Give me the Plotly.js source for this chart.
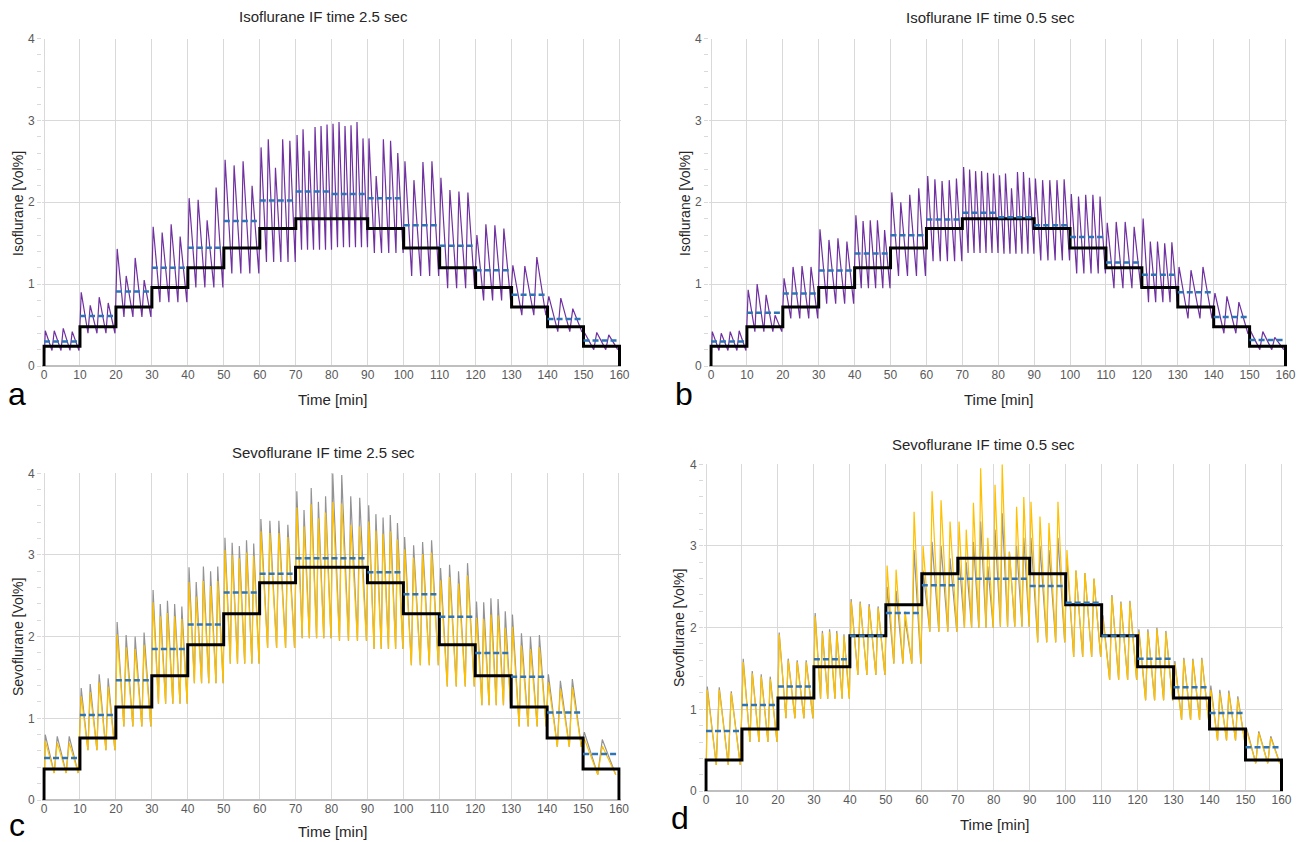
<!DOCTYPE html>
<html>
<head>
<meta charset="utf-8">
<script src="https://cdn.plot.ly/plotly-3.0.1.min.js"></script>
<style>html,body{margin:0;padding:0;background:#fff;}#chart{width:1305px;height:842px;}</style>
</head>
<body>
<div id="chart"></div>
<script>
// ---- Data ----
const stepStarts = [0,10,20,30,40,50,60,70,80,90,100,110,120,130,140,150];
const xTicks = [0,10,20,30,40,50,60,70,80,90,100,110,120,130,140,150,160];

const isoTarget  = [0.24,0.48,0.72,0.96,1.2,1.44,1.68,1.8,1.8,1.68,1.44,1.2,0.96,0.72,0.48,0.24];
const sevoTarget = [0.38,0.76,1.14,1.52,1.9,2.28,2.66,2.85,2.85,2.66,2.28,1.9,1.52,1.14,0.76,0.38];

// Panel a: Isoflurane IF 2.5 s
const isoSlowMean = [0.30,0.61,0.91,1.20,1.445,1.77,2.02,2.13,2.10,2.05,1.72,1.47,1.17,0.87,0.575,0.31];
const isoSlowPeaks = [
  [0.43,0.43,0.46,0.42],
  [0.90,0.74,0.84,0.77],
  [1.43,1.10,1.32,1.05],
  [1.70,1.63,1.73,1.58],
  [2.05,2.03,1.78,2.18],
  [2.52,2.45,2.50,2.20],
  [2.67,2.77,2.42,2.77,2.75],
  [2.82,2.89,2.63,2.92,2.93,2.95],
  [2.96,2.98,2.93,2.94,2.98,2.78],
  [2.78,2.32,2.77,2.75,2.60],
  [2.50,2.27,2.49,2.50],
  [2.30,2.15,2.13,2.12],
  [1.60,1.73,1.72,1.68],
  [1.23,1.22,1.33],
  [0.85,0.83,0.70],
  [0.40,0.41,0.38]
];
const isoSlowTroughs = [0.19,0.40,0.60,0.78,0.96,1.13,1.27,1.42,1.45,1.38,1.10,0.95,0.80,0.62,0.42,0.20];

// Panel b: Isoflurane IF 0.5 s
const isoFastMean = [0.30,0.65,0.886,1.167,1.375,1.596,1.79,1.873,1.816,1.72,1.575,1.265,1.114,0.90,0.60,0.318];
const isoFastPeaks = [
  [0.42,0.40,0.42,0.43],
  [0.93,1.00,0.87,0.62],
  [1.07,1.21,1.22,1.21],
  [1.67,1.54,1.56,1.52],
  [1.84,1.77,1.78,1.78,1.66],
  [2.12,2.00,2.09,2.17],
  [2.32,2.28,2.26,2.27,2.29],
  [2.43,2.40,2.38,2.38,2.36,2.35],
  [2.33,2.35,2.17,2.37,2.37,2.30],
  [2.29,2.27,2.27,2.27,2.28],
  [2.10,2.07,2.09,2.09,2.07],
  [1.75,1.76,1.76,1.70],
  [1.80,1.52,1.52,1.50,1.51],
  [1.21,1.17,1.21],
  [0.89,0.85,0.78],
  [0.42,0.42,0.35]
];
const isoFastTroughs = [0.19,0.42,0.58,0.76,0.95,1.10,1.28,1.38,1.37,1.29,1.13,0.95,0.78,0.58,0.40,0.20];

// Panel c: Sevoflurane IF 2.5 s (gray = upper series, gold drawn on top)
const sevoSlowMean = [0.514,1.04,1.465,1.85,2.15,2.54,2.77,2.96,2.96,2.79,2.52,2.245,1.80,1.51,1.07,0.563];
const sevoSlowGrayPeaks = [
  [0.80,0.78,0.78],
  [1.37,1.42,1.54,1.49],
  [2.18,2.02,2.00,2.05],
  [2.57,2.40,2.44,2.40,2.37],
  [2.85,2.67,2.86,2.80,2.86],
  [3.21,3.15,3.11,3.18,3.14],
  [3.44,3.42,3.42,3.37],
  [3.78,3.55,3.82,3.65,3.72],
  [4.00,3.98,3.72,3.70],
  [3.61,3.50,3.46,3.49,3.39],
  [3.22,3.12,3.16,3.18],
  [2.84,2.88,2.80,2.90],
  [2.43,2.42,2.47,2.46,2.31],
  [2.27,2.04,2.00,2.02],
  [1.54,1.46,1.48],
  [0.83,0.74]
];
const sevoSlowGoldPeaks = [
  [0.72,0.70,0.70],
  [1.27,1.32,1.44,1.39],
  [2.03,1.87,1.85,1.90],
  [2.42,2.25,2.29,2.25,2.22],
  [2.67,2.49,2.68,2.62,2.68],
  [3.06,3.00,2.96,3.03,2.99],
  [3.29,3.27,3.27,3.22],
  [3.58,3.35,3.62,3.45,3.52],
  [3.65,3.63,3.37,3.35],
  [3.41,3.30,3.26,3.29,3.19],
  [3.07,2.97,3.01,3.03],
  [2.69,2.73,2.65,2.75],
  [2.23,2.22,2.27,2.26,2.11],
  [2.12,1.89,1.85,1.87],
  [1.44,1.36,1.38],
  [0.75,0.66]
];
const sevoSlowTroughs = [0.33,0.61,0.90,1.18,1.43,1.67,1.86,1.98,1.95,1.85,1.65,1.39,1.16,0.90,0.65,0.31];

// Panel d: Sevoflurane IF 0.5 s
const sevoFastMean = [0.735,1.053,1.278,1.612,1.90,2.18,2.52,2.60,2.60,2.51,2.306,1.90,1.62,1.27,0.955,0.535];
const sevoFastGoldPeaks = [
  [1.24,1.24,1.20],
  [1.58,1.44,1.40,1.37],
  [1.92,1.60,1.58,1.58],
  [2.14,1.93,1.95,1.93,1.90],
  [2.32,2.30,2.26,2.24],
  [2.76,2.71,2.20,3.42],
  [3.00,3.67,3.56,3.30],
  [3.30,3.20,3.53,3.95,3.10],
  [3.75,4.00,2.93,3.48,3.60],
  [3.54,3.36,3.28,3.54],
  [2.95,2.70,2.67,2.60],
  [2.11,2.38,2.30,2.31],
  [1.95,1.95,1.98,1.94],
  [1.56,1.61,1.60,1.61],
  [1.24,1.20,1.20,1.13],
  [0.73,0.71,0.65]
];
const sevoFastGrayPeaks = [
  [1.28,1.27,1.22],
  [1.62,1.47,1.43,1.40],
  [1.94,1.62,1.60,1.60],
  [2.18,1.96,1.98,1.96,1.92],
  [2.35,2.32,2.29,2.26],
  [2.50,2.45,2.10,2.95],
  [2.70,3.05,3.00,2.85],
  [2.85,2.80,3.05,3.30,2.75],
  [3.20,3.40,2.93,3.00,3.10],
  [3.10,3.00,2.95,3.10],
  [2.85,2.70,2.67,2.60],
  [2.15,2.40,2.32,2.33],
  [1.98,1.98,2.00,1.96],
  [1.59,1.63,1.62,1.63],
  [1.29,1.24,1.23,1.16],
  [0.76,0.73,0.67]
];
const sevoFastTroughs = [0.32,0.60,0.89,1.13,1.42,1.56,1.95,2.00,2.01,1.82,1.64,1.36,1.11,0.87,0.62,0.34];

// ---- Builders ----
function waveTrace(peaks, troughs, color, xa, ya, width) {
  const x = [0], y = [0];
  stepStarts.forEach((s, i) => {
    const n = peaks[i].length, d = 10 / n;
    peaks[i].forEach((p, k) => {
      const tp = s + 0.35 + k * d;
      x.push(tp); y.push(p);
      x.push(tp + 0.75 * d); y.push(troughs[i]);
    });
  });
  return {x, y, type:'scatter', mode:'lines', xaxis:xa, yaxis:ya,
          line:{color, width: width || 1.2}, hoverinfo:'skip', showlegend:false};
}
function targetTrace(target, xa, ya) {
  const x = [0, 0], y = [0, target[0]];
  stepStarts.forEach((s, i) => { if (i > 0) { x.push(s); y.push(target[i]); } });
  x.push(160); y.push(target[target.length - 1]);
  x.push(160); y.push(0);
  return {x, y, type:'scatter', mode:'lines', xaxis:xa, yaxis:ya,
          line:{color:'#000000', width:3, shape:'hv'}, hoverinfo:'skip', showlegend:false};
}
function meanTrace(mean, xa, ya) {
  const x = [], y = [];
  stepStarts.forEach((s, i) => { x.push(s, s + 10, null); y.push(mean[i], mean[i], null); });
  return {x, y, type:'scatter', mode:'lines', xaxis:xa, yaxis:ya,
          line:{color:'#2E75B6', width:2.5, dash:'6px,3px'}, hoverinfo:'skip', showlegend:false};
}

const purple = '#7030A0', gold = '#FFC000', gray = '#939393';
const traces = [
  waveTrace(isoSlowPeaks, isoSlowTroughs, purple, 'x', 'y'),
  targetTrace(isoTarget, 'x', 'y'),
  meanTrace(isoSlowMean, 'x', 'y'),
  waveTrace(isoFastPeaks, isoFastTroughs, purple, 'x2', 'y2'),
  targetTrace(isoTarget, 'x2', 'y2'),
  meanTrace(isoFastMean, 'x2', 'y2'),
  waveTrace(sevoSlowGrayPeaks, sevoSlowTroughs, gray, 'x3', 'y3'),
  waveTrace(sevoSlowGoldPeaks, sevoSlowTroughs, gold, 'x3', 'y3'),
  targetTrace(sevoTarget, 'x3', 'y3'),
  meanTrace(sevoSlowMean, 'x3', 'y3'),
  waveTrace(sevoFastGrayPeaks, sevoFastTroughs, gray, 'x4', 'y4'),
  waveTrace(sevoFastGoldPeaks, sevoFastTroughs, gold, 'x4', 'y4'),
  targetTrace(sevoTarget, 'x4', 'y4'),
  meanTrace(sevoFastMean, 'x4', 'y4')
];

const W = 1305, H = 842;
const fontFam = 'Liberation Sans, Arial, sans-serif';
const px = v => v / W, py = v => 1 - v / H;
const PAD = 0.5;            // minutes of padding so the edge steps are not clipped
const pxPerMin = 3.59;

function xAxis(l, r, anchor) {
  return {domain:[px(l - PAD * pxPerMin), px(r + PAD * pxPerMin)], range:[-PAD, 160 + PAD], tickvals:xTicks, anchor,
    showgrid:true, gridcolor:'#d9d9d9', gridwidth:1, zeroline:false, showline:false,
    ticks:'', tickfont:{family:fontFam, size:12, color:'#595959'}, fixedrange:true};
}
function yAxis(top, bottom, anchor) {
  return {domain:[py(bottom), py(top)], range:[0,4], dtick:1, anchor,
    showgrid:true, gridcolor:'#d9d9d9', gridwidth:1, zeroline:true, zerolinecolor:'#bfbfbf', zerolinewidth:1.2,
    showline:false, ticks:'outside', ticklen:4, tickcolor:'#d9d9d9',
    minor:{dtick:0.2, ticks:'outside', ticklen:4, tickcolor:'#d9d9d9', showgrid:false},
    tickfont:{family:fontFam, size:12, color:'#595959'}, fixedrange:true};
}

function ann(text, x, y, size, color, angle) {
  return {text, x:px(x), y:py(y), xref:'paper', yref:'paper', xanchor:'center', yanchor:'middle',
    showarrow:false, textangle: angle || 0, font:{family:fontFam, size, color}};
}

const layout = {
  width:W, height:H, margin:{l:0,r:0,t:0,b:0}, paper_bgcolor:'#ffffff', plot_bgcolor:'#ffffff',
  showlegend:false,
  xaxis: xAxis(44, 619.5, 'y'),   yaxis: yAxis(38.5, 366, 'x'),
  xaxis2: xAxis(711, 1285.5, 'y2'), yaxis2: yAxis(38.5, 366, 'x2'),
  xaxis3: xAxis(44, 619, 'y3'),   yaxis3: yAxis(473.3, 800, 'x3'),
  xaxis4: xAxis(706, 1281.5, 'y4'), yaxis4: yAxis(464.3, 791, 'x4'),
  annotations: [
    ann('Isoflurane IF time 2.5 sec', 323, 17, 15, '#262626'),
    ann('Isoflurane IF time 0.5 sec', 990, 17.5, 15, '#262626'),
    ann('Sevoflurane IF time 2.5 sec', 323, 452, 15, '#262626'),
    ann('Sevoflurane IF time 0.5 sec', 983, 444, 15, '#262626'),
    ann('Time [min]', 332, 399, 15, '#262626'),
    ann('Time [min]', 998, 399, 15, '#262626'),
    ann('Time [min]', 332, 831, 15, '#262626'),
    ann('Time [min]', 994, 824, 15, '#262626'),
    ann('Isoflurane [Vol%]', 18, 204, 14, '#262626', -90),
    ann('Isoflurane [Vol%]', 685, 204, 14, '#262626', -90),
    ann('Sevoflurane [Vol%]', 18, 637, 14, '#262626', -90),
    ann('Sevoflurane [Vol%]', 679, 628, 14, '#262626', -90),
    ann('a', 17, 394, 32, '#000000'),
    ann('b', 684, 394, 32, '#000000'),
    ann('c', 17, 825, 32, '#000000'),
    ann('d', 680, 818, 32, '#000000')
  ]
};

Plotly.newPlot('chart', traces, layout, {staticPlot:true, displayModeBar:false});
</script>
</body>
</html>
